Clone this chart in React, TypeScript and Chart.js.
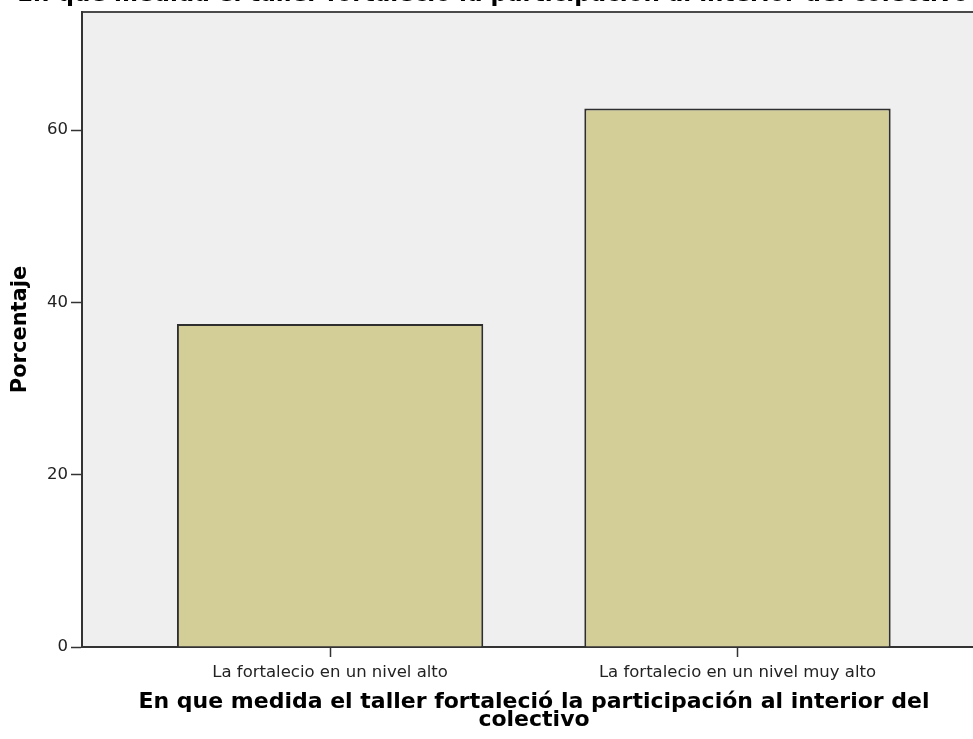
import React, { useEffect, useRef } from "react";
import { Chart, registerables } from "chart.js";

Chart.register(...registerables);

const chartTitle = "En que medida el taller fortaleció la participación al interior del colectivo";
const categories = ["La fortalecio en un nivel alto", "La fortalecio en un nivel muy alto"];
const percentages = [37.5, 62.5];
const yTicks = [0, 20, 40, 60];
const yAxisTitle = "Porcentaje";
const xAxisTitle = ["En que medida el taller fortaleció la participación al interior del", "colectivo"];

const plotBackground = {
  id: "plotBackground",
  beforeDraw(chart: any) {
    const { ctx, chartArea } = chart;
    ctx.save();
    ctx.fillStyle = "#efefef";
    ctx.fillRect(chartArea.left, chartArea.top, chartArea.right - chartArea.left, chartArea.bottom - chartArea.top);
    ctx.strokeStyle = "#4a4a4a";
    ctx.lineWidth = 2;
    ctx.beginPath();
    ctx.moveTo(chartArea.left, chartArea.top);
    ctx.lineTo(chartArea.right, chartArea.top);
    ctx.stroke();
    ctx.restore();
  },
};

export default function App() {
  const ref = useRef<HTMLCanvasElement>(null);
  useEffect(() => {
    if (!ref.current) return;
    const chart = new Chart(ref.current, {
      type: "bar",
      data: {
        datasets: [
          {
            data: percentages.map((v, i) => ({ x: i, y: v })),
            backgroundColor: "#d3ce97",
            borderColor: "#2e2e2e",
            borderWidth: 2,
            barPercentage: 0.752,
            categoryPercentage: 1,
          },
        ],
      },
      options: {
        animation: false,
        responsive: false,
        devicePixelRatio: 1,
        layout: { padding: 0 },
        plugins: {
          legend: { display: false },
          tooltip: { enabled: false },
          title: {
            display: true,
            text: chartTitle,
            color: "#000",
            font: { family: "DejaVu Sans", size: 23, weight: "bold", lineHeight: 1.2 },
            padding: { top: 0, bottom: 3.4 },
          },
        },
        scales: {
          x: {
            type: "linear",
            offset: false,
            min: -0.609,
            max: 1.61,
            afterBuildTicks: (s: any) => {
              s.ticks = categories.map((_, i) => ({ value: i }));
            },
            afterFit: (s: any) => {
              s.height = 92;
            },
            ticks: {
              callback: (v: any) => categories[v] ?? "",
              color: "#222",
              font: { family: "DejaVu Sans", size: 16.5 },
              padding: 6,
              maxRotation: 0,
              autoSkip: false,
            },
            grid: { offset: false, drawOnChartArea: false, drawTicks: true, tickLength: 10, tickColor: "#333", tickWidth: 1.5 },
            border: { display: true, color: "#333", width: 2 },
            title: {
              display: true,
              text: xAxisTitle,
              color: "#000",
              font: { family: "DejaVu Sans", size: 22, weight: "bold", lineHeight: "18px" },
              padding: { top: 0, bottom: 9.6 },
            },
          },
          y: {
            min: 0,
            max: 73.7,
            afterBuildTicks: (s: any) => {
              s.ticks = yTicks.map((v) => ({ value: v }));
            },
            afterFit: (s: any) => {
              s.width = 82;
            },
            ticks: {
              color: "#222",
              font: { family: "DejaVu Sans", size: 16.5 },
              padding: 3,
            },
            grid: { drawOnChartArea: false, drawTicks: true, tickLength: 11, tickColor: "#333", tickWidth: 1.5 },
            border: { display: true, color: "#333", width: 2 },
            title: {
              display: true,
              text: yAxisTitle,
              color: "#000",
              font: { family: "DejaVu Sans", size: 21, weight: "bold", lineHeight: 1.2 },
              padding: { top: 8.1, bottom: 0 },
            },
          },
        },
      },
      plugins: [plotBackground],
    } as any);
    return () => chart.destroy();
  }, []);
  return (
    <div style={{ position: "fixed", left: 0, top: 0, width: 973, height: 739, overflow: "hidden", background: "#fff" }}>
      <canvas
        ref={ref}
        width={986}
        height={758}
        style={{ position: "absolute", left: 0, top: -19, width: 986, height: 758 }}
      />
    </div>
  );
}
